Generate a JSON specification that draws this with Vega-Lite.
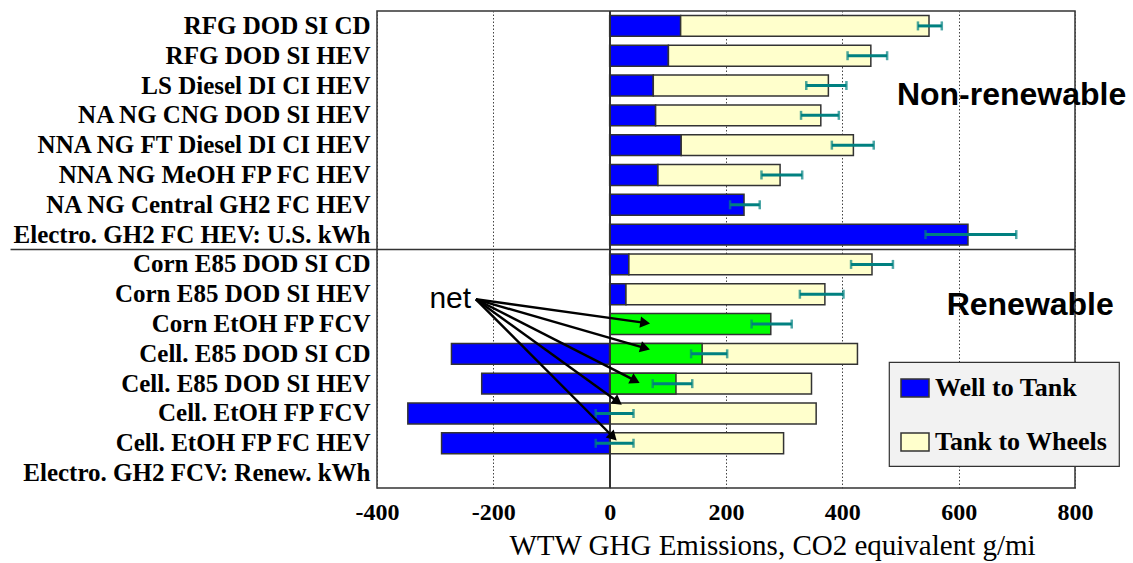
{
  "$schema": "https://vega.github.io/schema/vega-lite/v6.json",
  "width": 698,
  "height": 477,
  "autosize": {"type": "none"},
  "padding": {"left": 377, "top": 11, "right": 58, "bottom": 75},
  "background": "white",
  "config": {
    "view": {"stroke": "#333333", "strokeWidth": 1.5},
    "legend": {"strokeWidth": 1.2}
  },
  "datasets": {
    "bars": [
      {"cat": "RFG DOD SI CD", "seg": "Well to Tank", "lo": 0, "hi": 122},
      {"cat": "RFG DOD SI CD", "seg": "Tank to Wheels", "lo": 122, "hi": 549},
      {"cat": "RFG DOD SI HEV", "seg": "Well to Tank", "lo": 0, "hi": 101},
      {"cat": "RFG DOD SI HEV", "seg": "Tank to Wheels", "lo": 101, "hi": 449},
      {"cat": "LS Diesel DI CI HEV", "seg": "Well to Tank", "lo": 0, "hi": 75},
      {"cat": "LS Diesel DI CI HEV", "seg": "Tank to Wheels", "lo": 75, "hi": 376},
      {"cat": "NA NG CNG DOD SI HEV", "seg": "Well to Tank", "lo": 0, "hi": 79},
      {"cat": "NA NG CNG DOD SI HEV", "seg": "Tank to Wheels", "lo": 79, "hi": 363},
      {"cat": "NNA NG FT Diesel DI CI HEV", "seg": "Well to Tank", "lo": 0, "hi": 123},
      {"cat": "NNA NG FT Diesel DI CI HEV", "seg": "Tank to Wheels", "lo": 123, "hi": 419},
      {"cat": "NNA NG MeOH FP FC HEV", "seg": "Well to Tank", "lo": 0, "hi": 83},
      {"cat": "NNA NG MeOH FP FC HEV", "seg": "Tank to Wheels", "lo": 83, "hi": 293},
      {"cat": "NA NG Central GH2 FC HEV", "seg": "Well to Tank", "lo": 0, "hi": 231},
      {"cat": "Electro. GH2 FC HEV: U.S. kWh", "seg": "Well to Tank", "lo": 0, "hi": 616},
      {"cat": "Corn E85 DOD SI CD", "seg": "Well to Tank", "lo": 0, "hi": 33},
      {"cat": "Corn E85 DOD SI CD", "seg": "Tank to Wheels", "lo": 33, "hi": 451},
      {"cat": "Corn E85 DOD SI HEV", "seg": "Well to Tank", "lo": 0, "hi": 28},
      {"cat": "Corn E85 DOD SI HEV", "seg": "Tank to Wheels", "lo": 28, "hi": 370},
      {"cat": "Cell. E85 DOD SI CD", "seg": "Well to Tank", "lo": -272, "hi": 0},
      {"cat": "Cell. E85 DOD SI CD", "seg": "Tank to Wheels", "lo": 0, "hi": 426},
      {"cat": "Cell. E85 DOD SI HEV", "seg": "Well to Tank", "lo": -220, "hi": 0},
      {"cat": "Cell. E85 DOD SI HEV", "seg": "Tank to Wheels", "lo": 0, "hi": 347},
      {"cat": "Cell. EtOH FP FCV", "seg": "Well to Tank", "lo": -347, "hi": 0},
      {"cat": "Cell. EtOH FP FCV", "seg": "Tank to Wheels", "lo": 0, "hi": 355},
      {"cat": "Cell. EtOH FP FC HEV", "seg": "Well to Tank", "lo": -289, "hi": 0},
      {"cat": "Cell. EtOH FP FC HEV", "seg": "Tank to Wheels", "lo": 0, "hi": 299},
      {"cat": "Corn EtOH FP FCV", "seg": "net", "lo": 0, "hi": 277},
      {"cat": "Cell. E85 DOD SI CD", "seg": "net", "lo": 0, "hi": 159},
      {"cat": "Cell. E85 DOD SI HEV", "seg": "net", "lo": 0, "hi": 114}
    ],
    "errs": [
      {"cat": "RFG DOD SI CD", "lo": 530, "hi": 571},
      {"cat": "RFG DOD SI HEV", "lo": 409, "hi": 477},
      {"cat": "LS Diesel DI CI HEV", "lo": 338, "hi": 407},
      {"cat": "NA NG CNG DOD SI HEV", "lo": 329, "hi": 394},
      {"cat": "NNA NG FT Diesel DI CI HEV", "lo": 382, "hi": 454},
      {"cat": "NNA NG MeOH FP FC HEV", "lo": 261, "hi": 331},
      {"cat": "NA NG Central GH2 FC HEV", "lo": 207, "hi": 258},
      {"cat": "Electro. GH2 FC HEV: U.S. kWh", "lo": 543, "hi": 699},
      {"cat": "Corn E85 DOD SI CD", "lo": 415, "hi": 487},
      {"cat": "Corn E85 DOD SI HEV", "lo": 327, "hi": 402},
      {"cat": "Corn EtOH FP FCV", "lo": 244, "hi": 313},
      {"cat": "Cell. E85 DOD SI CD", "lo": 140, "hi": 202},
      {"cat": "Cell. E85 DOD SI HEV", "lo": 74, "hi": 142},
      {"cat": "Cell. EtOH FP FCV", "lo": -24, "hi": 41},
      {"cat": "Cell. EtOH FP FC HEV", "lo": -24, "hi": 41}
    ],
    "arrows": [
      {"x1": -230, "r1": 9.67, "x2": 61, "r2": 10.46},
      {"x1": -230, "r1": 9.67, "x2": 61, "r2": 11.31},
      {"x1": -230, "r1": 9.67, "x2": 44, "r2": 12.4},
      {"x1": -230, "r1": 9.67, "x2": 14, "r2": 13.11},
      {"x1": -230, "r1": 9.67, "x2": 6, "r2": 14.29}
    ],
    "headings": [
      {"label": "Non-renewable", "x": 691, "r": 3.15},
      {"label": "Renewable", "x": 723, "r": 10.2}
    ],
    "notes": [
      {"label": "net", "x": -274, "r": 9.96}
    ],
    "divider": [
      {"xa": -1030, "xb": 800, "r": 8}
    ]
  },
  "resolve": {"scale": {"y": "independent"}, "axis": {"y": "independent"}},
  "layer": [
    {
      "data": {"name": "bars"},
      "mark": {"type": "bar", "stroke": "#333333", "strokeWidth": 1.5},
      "encoding": {
        "y": {
          "field": "cat", "type": "nominal",
          "scale": {
            "domain": ["RFG DOD SI CD", "RFG DOD SI HEV", "LS Diesel DI CI HEV", "NA NG CNG DOD SI HEV", "NNA NG FT Diesel DI CI HEV", "NNA NG MeOH FP FC HEV", "NA NG Central GH2 FC HEV", "Electro. GH2 FC HEV: U.S. kWh", "Corn E85 DOD SI CD", "Corn E85 DOD SI HEV", "Corn EtOH FP FCV", "Cell. E85 DOD SI CD", "Cell. E85 DOD SI HEV", "Cell. EtOH FP FCV", "Cell. EtOH FP FC HEV", "Electro. GH2 FCV: Renew. kWh"],
            "paddingInner": 0.3, "paddingOuter": 0.15
          },
          "axis": {
            "title": null, "ticks": false, "domain": false, "grid": false,
            "labelFont": "Liberation Serif, Times New Roman, serif", "labelFontWeight": "bold", "labelFontSize": 25,
            "labelColor": "#000000", "labelPadding": 7, "labelLimit": 500
          }
        },
        "x": {
          "field": "lo", "type": "quantitative",
          "scale": {"domain": [-400, 800], "nice": false, "zero": false},
          "axis": {
            "title": "WTW GHG Emissions, CO2 equivalent g/mi",
            "values": [-400, -200, 0, 200, 400, 600, 800],
            "labelExpr": "replace(datum.label, '\u2212', '-')",
            "ticks": false, "domain": false, "labelFlush": false,
            "grid": true, "gridColor": "#444444", "gridDash": [1.5, 2], "gridWidth": 1,
            "labelFont": "Liberation Serif, Times New Roman, serif", "labelFontWeight": "bold", "labelFontSize": 24,
            "labelColor": "#000000", "labelPadding": 12,
            "titleFont": "Liberation Serif, Times New Roman, serif", "titleFontWeight": "normal", "titleFontSize": 29,
            "titleColor": "#000000", "titleX": 395, "titleY": 66, "titleAlign": "center",
            "titleBaseline": "alphabetic"
          }
        },
        "x2": {"field": "hi"},
        "color": {
          "field": "seg", "type": "nominal",
          "scale": {"domain": ["Well to Tank", "Tank to Wheels", "net"], "range": ["#0000ff", "#ffffcc", "#00ff00"]},
          "legend": {
            "values": ["Well to Tank", "Tank to Wheels"],
            "title": null, "orient": "none", "legendX": 512, "legendY": 351,
            "fillColor": "#f2f2f2", "strokeColor": "#333333", "padding": 11,
            "symbolType": "M-1,-0.64H1V0.64H-1Z", "symbolSize": 784,
            "symbolStrokeColor": "#333333", "symbolStrokeWidth": 1.5,
            "labelFont": "Liberation Serif, Times New Roman, serif", "labelFontWeight": "bold", "labelFontSize": 26,
            "labelColor": "#000000", "labelOffset": 5, "rowPadding": 26, "labelLimit": 400
          }
        }
      }
    },
    {
      "data": {"name": "bars"},
      "mark": {"type": "rule", "color": "#333333", "strokeWidth": 1.3},
      "encoding": {
        "x": {"datum": 0, "type": "quantitative", "scale": {"domain": [-400, 800], "nice": false, "zero": false}}
      }
    },
    {
      "data": {"name": "errs"},
      "mark": {"type": "rule", "color": "#008080", "strokeWidth": 3},
      "encoding": {
        "y": {"field": "cat", "type": "nominal", "axis": null,
          "scale": {"domain": ["RFG DOD SI CD", "RFG DOD SI HEV", "LS Diesel DI CI HEV", "NA NG CNG DOD SI HEV", "NNA NG FT Diesel DI CI HEV", "NNA NG MeOH FP FC HEV", "NA NG Central GH2 FC HEV", "Electro. GH2 FC HEV: U.S. kWh", "Corn E85 DOD SI CD", "Corn E85 DOD SI HEV", "Corn EtOH FP FCV", "Cell. E85 DOD SI CD", "Cell. E85 DOD SI HEV", "Cell. EtOH FP FCV", "Cell. EtOH FP FC HEV", "Electro. GH2 FCV: Renew. kWh"], "paddingInner": 0.3, "paddingOuter": 0.15}},
        "x": {"field": "lo", "type": "quantitative", "scale": {"domain": [-400, 800], "nice": false, "zero": false}},
        "x2": {"field": "hi"}
      }
    },
    {
      "data": {"name": "errs"},
      "mark": {"type": "tick", "color": "#008080", "thickness": 2.5, "size": 9},
      "encoding": {
        "y": {"field": "cat", "type": "nominal", "axis": null,
          "scale": {"domain": ["RFG DOD SI CD", "RFG DOD SI HEV", "LS Diesel DI CI HEV", "NA NG CNG DOD SI HEV", "NNA NG FT Diesel DI CI HEV", "NNA NG MeOH FP FC HEV", "NA NG Central GH2 FC HEV", "Electro. GH2 FC HEV: U.S. kWh", "Corn E85 DOD SI CD", "Corn E85 DOD SI HEV", "Corn EtOH FP FCV", "Cell. E85 DOD SI CD", "Cell. E85 DOD SI HEV", "Cell. EtOH FP FCV", "Cell. EtOH FP FC HEV", "Electro. GH2 FCV: Renew. kWh"], "paddingInner": 0.3, "paddingOuter": 0.15}},
        "x": {"field": "lo", "type": "quantitative", "scale": {"domain": [-400, 800], "nice": false, "zero": false}}
      }
    },
    {
      "data": {"name": "errs"},
      "mark": {"type": "tick", "color": "#008080", "thickness": 2.5, "size": 9},
      "encoding": {
        "y": {"field": "cat", "type": "nominal", "axis": null,
          "scale": {"domain": ["RFG DOD SI CD", "RFG DOD SI HEV", "LS Diesel DI CI HEV", "NA NG CNG DOD SI HEV", "NNA NG FT Diesel DI CI HEV", "NNA NG MeOH FP FC HEV", "NA NG Central GH2 FC HEV", "Electro. GH2 FC HEV: U.S. kWh", "Corn E85 DOD SI CD", "Corn E85 DOD SI HEV", "Corn EtOH FP FCV", "Cell. E85 DOD SI CD", "Cell. E85 DOD SI HEV", "Cell. EtOH FP FCV", "Cell. EtOH FP FC HEV", "Electro. GH2 FCV: Renew. kWh"], "paddingInner": 0.3, "paddingOuter": 0.15}},
        "x": {"field": "hi", "type": "quantitative", "scale": {"domain": [-400, 800], "nice": false, "zero": false}}
      }
    },
    {
      "data": {"name": "divider"},
      "mark": {"type": "rule", "color": "#333333", "strokeWidth": 1.5},
      "encoding": {
        "x": {"field": "xa", "type": "quantitative", "scale": {"domain": [-400, 800], "nice": false, "zero": false}},
        "x2": {"field": "xb"},
        "y": {"field": "r", "type": "quantitative", "axis": null, "scale": {"domain": [0, 16], "reverse": true, "nice": false, "zero": false}}
      }
    },
    {
      "data": {"name": "arrows"},
      "mark": {"type": "rule", "color": "#000000", "strokeWidth": 2.4},
      "encoding": {
        "x": {"field": "x1", "type": "quantitative", "scale": {"domain": [-400, 800], "nice": false, "zero": false}},
        "x2": {"field": "x2"},
        "y": {"field": "r1", "type": "quantitative", "axis": null, "scale": {"domain": [0, 16], "reverse": true, "nice": false, "zero": false}},
        "y2": {"field": "r2"}
      }
    },
    {
      "data": {"name": "arrows"},
      "transform": [
        {"calculate": "atan2((datum.r2 - datum.r1) * 29.8125, (datum.x2 - datum.x1) * 0.58167) * 180 / PI", "as": "ang"}
      ],
      "mark": {"type": "point", "shape": "triangle-right", "filled": true, "color": "#000000", "opacity": 1, "size": 130},
      "encoding": {
        "x": {"field": "x2", "type": "quantitative", "scale": {"domain": [-400, 800], "nice": false, "zero": false}},
        "y": {"field": "r2", "type": "quantitative", "axis": null, "scale": {"domain": [0, 16], "reverse": true, "nice": false, "zero": false}},
        "angle": {"field": "ang", "type": "quantitative", "scale": null}
      }
    },
    {
      "data": {"name": "headings"},
      "mark": {"type": "text", "font": "Liberation Sans", "fontWeight": "bold", "fontSize": 32, "align": "center", "baseline": "alphabetic", "color": "#000000"},
      "encoding": {
        "x": {"field": "x", "type": "quantitative", "scale": {"domain": [-400, 800], "nice": false, "zero": false}},
        "y": {"field": "r", "type": "quantitative", "axis": null, "scale": {"domain": [0, 16], "reverse": true, "nice": false, "zero": false}},
        "text": {"field": "label"}
      }
    },
    {
      "data": {"name": "notes"},
      "mark": {"type": "text", "font": "Liberation Sans", "fontWeight": "normal", "fontSize": 30, "align": "center", "baseline": "alphabetic", "color": "#000000"},
      "encoding": {
        "x": {"field": "x", "type": "quantitative", "scale": {"domain": [-400, 800], "nice": false, "zero": false}},
        "y": {"field": "r", "type": "quantitative", "axis": null, "scale": {"domain": [0, 16], "reverse": true, "nice": false, "zero": false}},
        "text": {"field": "label"}
      }
    }
  ]
}
